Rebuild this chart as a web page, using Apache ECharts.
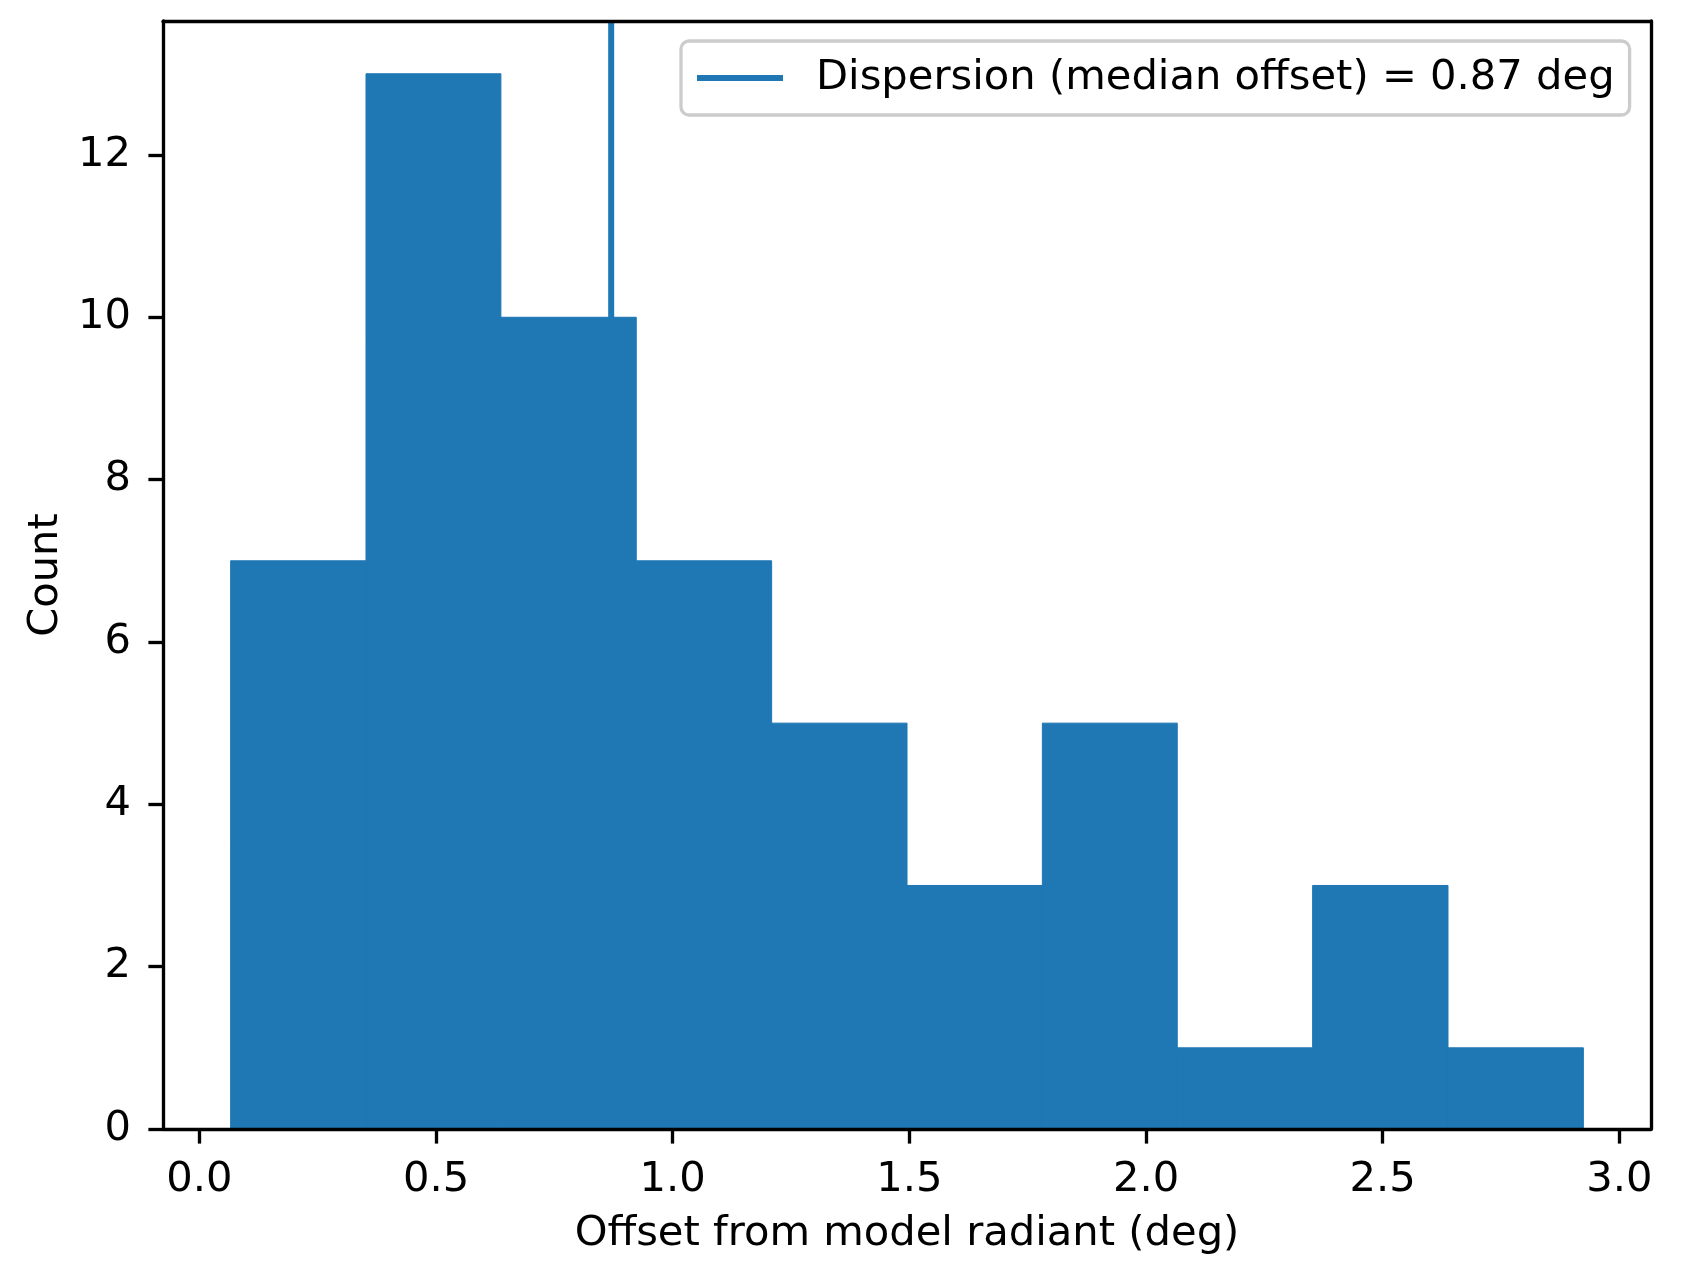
<!DOCTYPE html>
<html>
<head>
<meta charset="utf-8">
<script src="https://cdn.jsdelivr.net/npm/echarts@6/dist/echarts.min.js"></script>
<style>
html,body{margin:0;padding:0;background:#fff;}
#chart{width:1681px;height:1269px;}
</style>
</head>
<body>
<div id="chart"></div>
<script>
// ---- data ----
var binEdges = [0.066, 0.352, 0.637, 0.923, 1.209, 1.495, 1.781, 2.066, 2.352, 2.638, 2.924];
var counts = [7, 13, 10, 7, 5, 3, 5, 1, 3, 1];
var medianOffset = 0.87;
var xTicks = [0.0, 0.5, 1.0, 1.5, 2.0, 2.5, 3.0];
var yTicks = [0, 2, 4, 6, 8, 10, 12];
var legendLabel = 'Dispersion (median offset) = 0.87 deg';
var xTitle = 'Offset from model radiant (deg)';
var yTitle = 'Count';

// ---- build ----
var histData = [];
for (var i = 0; i < counts.length; i++) histData.push([binEdges[i], binEdges[i + 1], counts[i]]);
var span = binEdges[binEdges.length - 1] - binEdges[0];
var xMin = binEdges[0] - 0.05 * span;
var xMax = binEdges[binEdges.length - 1] + 0.05 * span;
var yMax = Math.max.apply(null, counts) * 1.05;

var FONT = 'DejaVu Sans';
var FS = 41.67;
var BLUE = '#1f77b4';
var LW = 3.33;

var chart = echarts.init(document.getElementById('chart'), null, {renderer: 'canvas'});
chart.setOption({
  backgroundColor: '#ffffff',
  animation: false,
  textStyle: {fontFamily: FONT},
  grid: {left: 163, top: 21, width: 1488, height: 1108, containLabel: false},
  legend: {
    show: true,
    left: 681, top: 41,
    data: [{name: legendLabel, icon: 'rect'}],
    itemWidth: 86, itemHeight: 6,
    padding: [16, 15, 16, 16],
    backgroundColor: 'rgba(255,255,255,0.8)',
    borderColor: '#cccccc', borderWidth: 3.3, borderRadius: 8,
    textStyle: {fontFamily: FONT, fontSize: FS, color: '#000', padding: [0, 0, 0, 28]}
  },
  xAxis: [{
    type: 'value', min: xMin, max: xMax, position: 'bottom', z: 10,
    name: xTitle, nameLocation: 'middle', nameGap: 84,
    nameTextStyle: {fontFamily: FONT, fontSize: FS, color: '#000'},
    axisLine: {show: true, onZero: false, lineStyle: {color: '#000', width: LW}},
    axisTick: {show: true, length: 14.6, lineStyle: {color: '#000', width: LW}, customValues: xTicks},
    axisLabel: {show: true, margin: 30, fontFamily: FONT, fontSize: FS, color: '#000', customValues: xTicks,
      formatter: function (v) { return v.toFixed(1); }},
    splitLine: {show: false}
  }, {
    type: 'value', min: xMin, max: xMax, position: 'top', z: 10,
    axisLine: {show: true, onZero: false, lineStyle: {color: '#000', width: LW}},
    axisTick: {show: false}, axisLabel: {show: false}, splitLine: {show: false}
  }],
  yAxis: [{
    type: 'value', min: 0, max: yMax, position: 'left', z: 10,
    name: yTitle, nameLocation: 'middle', nameGap: 96,
    nameTextStyle: {fontFamily: FONT, fontSize: FS, color: '#000'},
    axisLine: {show: true, onZero: false, lineStyle: {color: '#000', width: LW}},
    axisTick: {show: true, length: 14.6, lineStyle: {color: '#000', width: LW}, customValues: yTicks},
    axisLabel: {show: true, margin: 32, fontFamily: FONT, fontSize: FS, color: '#000', customValues: yTicks,
      padding: [5, 0, 0, 0]},
    splitLine: {show: false}
  }, {
    type: 'value', min: 0, max: yMax, position: 'right', z: 10,
    axisLine: {show: true, onZero: false, lineStyle: {color: '#000', width: LW}},
    axisTick: {show: false}, axisLabel: {show: false}, splitLine: {show: false}
  }],
  series: [{
    type: 'custom', name: 'hist', xAxisIndex: 0, yAxisIndex: 0, z: 2,
    data: histData,
    renderItem: function (params, api) {
      var p0 = api.coord([api.value(0), api.value(2)]);
      var p1 = api.coord([api.value(1), 0]);
      return {type: 'rect', shape: {x: p0[0], y: p0[1], width: p1[0] - p0[0], height: p1[1] - p0[1]},
        style: {fill: BLUE, stroke: BLUE, lineWidth: 1}};
    }
  }, {
    type: 'line', name: legendLabel, xAxisIndex: 0, yAxisIndex: 0, z: 3,
    color: BLUE,
    data: [[medianOffset, 0], [medianOffset, yMax]],
    showSymbol: false, symbol: 'none',
    lineStyle: {color: BLUE, width: 6},
    silent: true
  }]
});
</script>
</body>
</html>
